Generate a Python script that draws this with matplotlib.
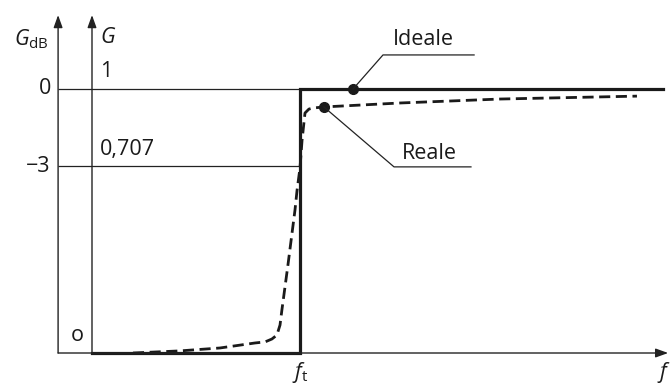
import matplotlib
matplotlib.use("Agg")
import matplotlib.pyplot as plt

plt.rcParams['font.family'] = ['Open Sans', 'DejaVu Sans']
plt.rcParams['mathtext.fontset'] = 'custom'
plt.rcParams['mathtext.rm'] = 'Open Sans'
plt.rcParams['mathtext.it'] = 'Open Sans:italic'

# data (f in units of f_t, G linear)
ideal_f = [0.0, 1.0, 1.0, 2.745]
ideal_G = [0.0, 0.0, 1.0, 1.0]

real_f = [0.197, 0.423, 0.615, 0.784, 0.832, 0.865, 0.889, 0.904, 0.913, 0.942,
          0.976, 0.986, 1.0, 1.010, 1.024, 1.043, 1.063, 1.115, 1.481, 1.962,
          2.442, 2.620]
real_G = [0.0, 0.008, 0.019, 0.038, 0.042, 0.053, 0.068, 0.106, 0.163, 0.333,
          0.542, 0.617, 0.701, 0.807, 0.909, 0.924, 0.928, 0.932, 0.947, 0.962,
          0.970, 0.973]

ref_G = [1.0, 0.707]
ref_G_labels = ['1', '0,707']
ref_dB_labels = ['0', '\u22123']

ideal_mark = (1.255, 1.0)
real_mark = (1.115, 0.932)

fig = plt.figure(figsize=(6.71, 3.85), dpi=100)
ax = fig.add_axes([0, 0, 1, 1])
ax.set_xlim(-0.4423, 2.7837)
ax.set_ylim(-0.1212, 1.3371)
ax.axis('off')

x_dB = -0.163
x_G = 0.0
y_top = 1.28
x_end = 2.77
fs = 15.5
ink = '#1a1a1a'

# axes
for xa in (x_dB, x_G):
    ax.annotate('', xy=(xa, y_top), xytext=(xa, 0), xycoords='data',
                arrowprops=dict(arrowstyle='-|>,head_length=0.75,head_width=0.27',
                                lw=1.0, color='#222222', shrinkA=0, shrinkB=0))
ax.annotate('', xy=(x_end, 0), xytext=(x_dB, 0),
            arrowprops=dict(arrowstyle='-|>,head_length=0.75,head_width=0.27',
                            lw=1.0, color='#222222', shrinkA=0, shrinkB=0))

# reference levels
for g, gl, dl in zip(ref_G, ref_G_labels, ref_dB_labels):
    ax.plot([x_dB, 1.0], [g, g], color='#222222', lw=0.9, solid_capstyle='butt')
    ax.text(x_G + 0.04, g + 0.025, gl, fontsize=fs, ha='left', va='bottom', color=ink)
    ax.text(x_dB - 0.035, g, dl, fontsize=fs, ha='right', va='center', color=ink)

# ideal response
ax.plot(ideal_f, ideal_G, color=ink, lw=2.3, solid_joinstyle='miter')
# real response
ax.plot(real_f, real_G, color=ink, lw=2.0, dashes=(4, 2.0))

# markers and leader lines
ax.plot(*ideal_mark, 'o', color=ink, ms=7)
ax.plot(*real_mark, 'o', color=ink, ms=7)
ax.plot([ideal_mark[0], 1.399, 1.837], [ideal_mark[1], 1.129, 1.129], color='#222222', lw=0.9)
ax.plot([real_mark[0], 1.452, 1.822], [real_mark[1], 0.705, 0.705], color='#222222', lw=0.9)
ax.text(1.447, 1.167, 'Ideale', fontsize=fs, ha='left', va='baseline', color=ink)
ax.text(1.49, 0.735, 'Reale', fontsize=fs, ha='left', va='baseline', color=ink)

# axis labels
ax.text(x_dB - 0.045, 1.19, r'$G_{\mathrm{dB}}$', fontsize=fs, ha='right', va='center', color=ink)
ax.text(x_G + 0.04, 1.195, r'$G$', fontsize=fs, ha='left', va='center', color=ink)
ax.text(x_G - 0.07, 0.068, 'o', fontsize=fs, ha='center', va='center', color=ink)
ax.text(1.0, -0.025, r'$f_{\mathrm{t}}$', fontsize=fs, ha='center', va='top', color=ink)
ax.text(2.752, -0.025, r'$f$', fontsize=fs, ha='center', va='top', color=ink)

fig.savefig('out.png', dpi=100)
